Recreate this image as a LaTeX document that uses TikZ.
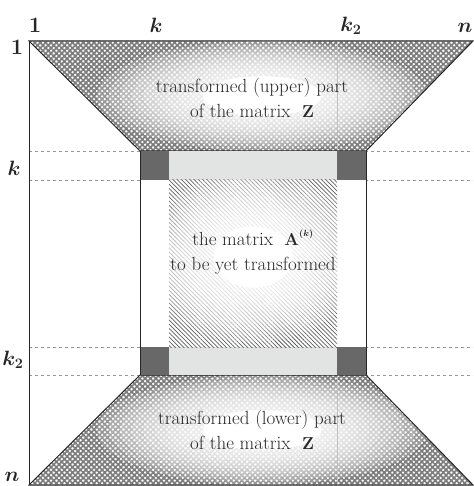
\documentclass[tikz,border=0pt]{standalone}
\usepackage{amsmath}
\usepackage{tikz}
\usetikzlibrary{patterns.meta}
\definecolor{darkcell}{RGB}{104,104,104}
\definecolor{lightbar}{RGB}{226,228,228}
\definecolor{hatchgray}{RGB}{95,95,95}
\definecolor{crossgray}{RGB}{125,125,125}
\definecolor{guidegray}{RGB}{150,150,150}
\definecolor{textgray}{RGB}{40,40,40}
\newcommand{\uppertrap}{(29,41) -- (473,41) -- (366,151) -- (140,151) -- cycle}
\newcommand{\lowertrap}{(140,375) -- (366,375) -- (473,485) -- (29,485) -- cycle}
\tikzset{
  edge/.style={draw=black!85, line width=1pt},
  guide/.style={draw=guidegray, dashed, line width=0.5pt},
  colguide/.style={draw=guidegray!60, line width=0.4pt},
  crossfill/.style={pattern={Hatch[angle=45,distance=3.8pt,line width=1.7pt]}, pattern color=crossgray},
  hatchfill/.style={pattern={Lines[angle=-45,distance=3pt,line width=0.75pt]}, pattern color=hatchgray},
  glow/.style={fill=white, opacity=0.2},
  bodytext/.style={align=center, text=textgray, font=\fontsize{19}{25}\selectfont},
  idx/.style={text=black!85, font=\fontsize{22}{22}\selectfont\bfseries, inner sep=0pt}
}
% soft white spot: centre, x radius, y radius
\newcommand{\softspot}[3]{%
  \foreach \s in {1.0,0.93,...,0.36}
    \fill[glow] (#1) ellipse ({#2*\s} and {#3*\s});
  \fill[white] (#1) ellipse ({#2*0.36} and {#3*0.36});}
\begin{document}
\begin{tikzpicture}[x=1pt, y=-1pt]
\useasboundingbox (0,0) rectangle (473,486);

% Row guides k and k2
\foreach \yy in {151,180,347,375}
  \draw[guide] (29,\yy) -- (473,\yy);

% Upper part
\path[crossfill] \uppertrap;
\begin{scope}
  \clip \uppertrap;
  \softspot{262,96}{165}{55}
\end{scope}
\draw[colguide] (337,41) -- (337,151);
\draw[edge] \uppertrap;

% Lower part
\path[crossfill] \lowertrap;
\begin{scope}
  \clip \lowertrap;
  \softspot{262,430}{165}{55}
\end{scope}
\draw[colguide] (337,375) -- (337,485);
\draw[edge] \lowertrap;

% Block A(k)
\fill[white] (140,151) rectangle (366,375);
\fill[lightbar] (169,151) rectangle (337,180);
\fill[lightbar] (169,347) rectangle (337,375);
\fill[darkcell] (140,151) rectangle (169,180);
\fill[darkcell] (337,151) rectangle (366,180);
\fill[darkcell] (140,347) rectangle (169,375);
\fill[darkcell] (337,347) rectangle (366,375);
\path[hatchfill] (169,180) rectangle (337,347);
\begin{scope}
  \clip (169,180) rectangle (337,347);
  \softspot{253,257}{110}{85}
\end{scope}
\draw[edge] (140,151) -- (140,375);
\draw[edge] (366,151) -- (366,375);
\draw[edge] (29,41) -- (29,485);

% Texts
\node[bodytext] (uppertext) at (252,98) {transformed (upper) part\\of the matrix~~$\mathbf{Z}$};
\node[bodytext] (middletext) at (253,252) {the matrix~~$\mathbf{A}^{\raisebox{3pt}{$\scriptscriptstyle\boldsymbol{(k)}$}}$\\to be yet transformed};
\node[bodytext] (lowertext) at (252,430) {transformed (lower) part\\of the matrix~~$\mathbf{Z}$};

% Indices
\node[idx] (topone) at (35,25) {1};
\node[idx] (leftone) at (17,47) {1};
\node[idx] (topk) at (156,25) {$\boldsymbol{k}$};
\node[idx] (topktwo) at (351,26) {$\boldsymbol{k_2}$};
\node[idx] (topn) at (465,28) {$\boldsymbol{n}$};
\node[idx] (leftk) at (14,168) {$\boldsymbol{k}$};
\node[idx] (leftktwo) at (13,360) {$\boldsymbol{k_2}$};
\node[idx] (leftn) at (12,477) {$\boldsymbol{n}$};
\end{tikzpicture}
\end{document}
